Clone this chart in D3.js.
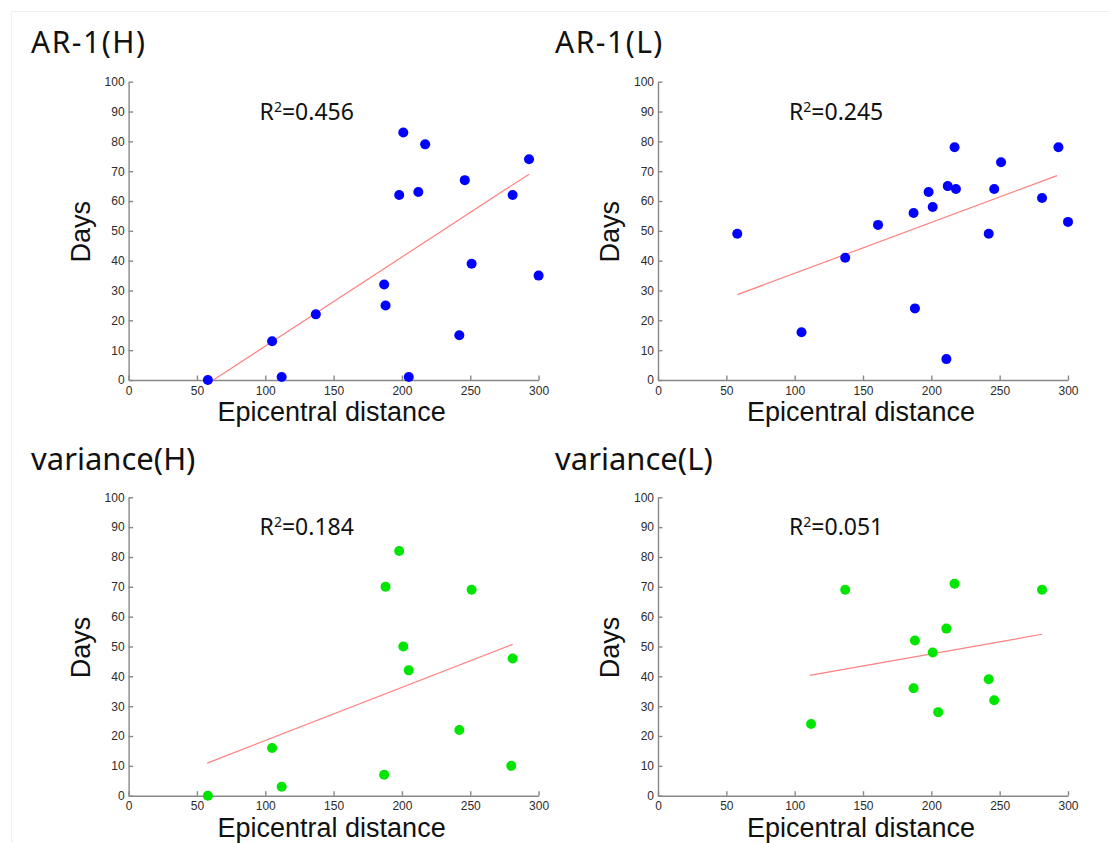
<!DOCTYPE html>
<html lang="en">
<head>
<meta charset="utf-8">
<title>Days vs epicentral distance</title>
<script src="https://d3js.org/d3.v7.min.js"></script>
<style>
  body { margin: 0; background: #fff; }
  svg { display: block; }
  .tick text { font-family: "Liberation Sans", Arial, sans-serif; font-size: 12px; fill: #2b2b2b; }
  .tick line, .domain { stroke: #888; stroke-width: 1.4; }
</style>
</head>
<body>
<div id="chart"></div>
<script>
// Data (distance, days)
var arH_dist = [58, 105, 112, 137, 187, 188, 198, 201, 205, 212, 217, 242, 246, 251, 281, 293, 300];
var arH_days = [0, 13, 1, 22, 32, 25, 62, 83, 1, 63, 79, 15, 67, 39, 62, 74, 35];
var arH_fitDist = [62, 293];
var arH_fitDays = [0, 69];

var arL_dist = [58, 105, 137, 161, 187, 188, 198, 201, 211, 212, 217, 218, 242, 246, 251, 281, 293, 300];
var arL_days = [49, 16, 41, 52, 56, 24, 63, 58, 7, 65, 78, 64, 49, 64, 73, 61, 78, 53];
var arL_fitDist = [58, 292];
var arL_fitDays = [28.6, 68.5];

var varH_dist = [58, 105, 112, 187, 188, 198, 201, 205, 242, 251, 280, 281];
var varH_days = [0, 16, 3, 7, 70, 82, 50, 42, 22, 69, 10, 46];
var varH_fitDist = [57.5, 281];
var varH_fitDays = [10.9, 50.7];

var varL_dist = [112, 137, 187, 188, 201, 205, 211, 217, 242, 246, 281];
var varL_days = [24, 69, 36, 52, 48, 28, 56, 71, 39, 32, 69];
var varL_fitDist = [111, 281];
var varL_fitDays = [40.3, 54.1];

var titles = ["AR-1(H)", "AR-1(L)", "variance(H)", "variance(L)"];
var r2Values = ["0.456", "0.245", "0.184", "0.051"];
var xTicks = [0, 50, 100, 150, 200, 250, 300];
var yTicks = [0, 10, 20, 30, 40, 50, 60, 70, 80, 90, 100];

// Setup
var width = 1109, height = 843;
var blue = "#0000ff", green = "#00e600", fitColour = "#ff8080";

var panels = [
  { dist: arH_dist, days: arH_days, fx: arH_fitDist, fy: arH_fitDays, colour: blue },
  { dist: arL_dist, days: arL_days, fx: arL_fitDist, fy: arL_fitDays, colour: blue },
  { dist: varH_dist, days: varH_days, fx: varH_fitDist, fy: varH_fitDays, colour: green },
  { dist: varL_dist, days: varL_days, fx: varL_fitDist, fy: varL_fitDays, colour: green }
];
// plot boxes: left, right, top, bottom, title x / baseline / size / spacing
var boxes = [
  { l: 128.6, r: 538.6, t: 81.7, b: 380, tx: 31, ty: 53, ts: 30, tsp: 1.5 },
  { l: 658, r: 1068, t: 81.7, b: 380, tx: 555, ty: 53, ts: 30, tsp: 1.5 },
  { l: 128.6, r: 538.6, t: 497.3, b: 795.7, tx: 31, ty: 470, ts: 31, tsp: 0 },
  { l: 658, r: 1068, t: 497.3, b: 795.7, tx: 555, ty: 470, ts: 31, tsp: 0 }
];

var svg = d3.select("#chart").append("svg")
  .attr("width", width)
  .attr("height", height);

// faint frame of the original figure
svg.append("rect")
  .attr("x", 11.5).attr("y", 11.5)
  .attr("width", width).attr("height", height)
  .attr("fill", "none")
  .attr("stroke", "#f0f0f0");

panels.forEach(function(p, i) {
  var b = boxes[i];
  var x = d3.scaleLinear().domain([0, 300]).range([b.l, b.r]);
  var y = d3.scaleLinear().domain([0, 100]).range([b.b, b.t]);
  var g = svg.append("g");

  // Title
  g.append("text")
    .attr("x", b.tx).attr("y", b.ty)
    .attr("font-family", "'Noto Sans', sans-serif")
    .attr("font-size", b.ts)
    .attr("letter-spacing", b.tsp + "px")
    .attr("fill", "#111")
    .text(titles[i]);

  // Axes, MATLAB-style inward ticks
  g.append("g")
    .attr("transform", "translate(0," + b.b + ")")
    .call(d3.axisBottom(x).tickValues(xTicks).tickSizeInner(-4.5).tickSizeOuter(0).tickPadding(6));
  g.append("g")
    .attr("transform", "translate(" + b.l + ",0)")
    .call(d3.axisLeft(y).tickValues(yTicks).tickSizeInner(-4.5).tickSizeOuter(0).tickPadding(4));

  // Fit line
  var fitPts = p.fx.map(function(d, k) { return [d, p.fy[k]]; });
  g.append("path")
    .datum(fitPts)
    .attr("fill", "none")
    .attr("stroke", fitColour)
    .attr("stroke-width", 1.2)
    .attr("d", d3.line().x(function(d) { return x(d[0]); }).y(function(d) { return y(d[1]); }));

  // Points
  var pts = p.dist.map(function(d, k) { return { dist: d, days: p.days[k] }; });
  g.selectAll("circle.pt").data(pts).enter().append("circle")
    .attr("class", "pt")
    .attr("cx", function(d) { return x(d.dist); })
    .attr("cy", function(d) { return y(d.days); })
    .attr("r", 5)
    .attr("fill", p.colour);

  // R squared label
  var r2 = g.append("text")
    .attr("x", b.l + 131).attr("y", b.t + 38)
    .attr("font-family", "'Noto Sans', sans-serif")
    .attr("font-size", 23)
    .attr("fill", "#111");
  r2.append("tspan").text("R");
  r2.append("tspan").attr("font-size", 14).attr("dy", -8).text("2");
  r2.append("tspan").attr("dy", 8).text("=" + r2Values[i]);

  // Axis titles
  g.append("text")
    .attr("x", (b.l + b.r) / 2 - 2).attr("y", b.b + 41)
    .attr("text-anchor", "middle")
    .attr("font-family", "'Liberation Sans', Arial, sans-serif")
    .attr("font-size", 27)
    .attr("fill", "#111")
    .text("Epicentral distance");
  g.append("text")
    .attr("transform", "translate(" + (b.l - 39) + "," + ((b.t + b.b) / 2 + 1) + ") rotate(-90)")
    .attr("text-anchor", "middle")
    .attr("font-family", "'Liberation Sans', Arial, sans-serif")
    .attr("font-size", 27)
    .attr("fill", "#111")
    .text("Days");
});
</script>
</body>
</html>
